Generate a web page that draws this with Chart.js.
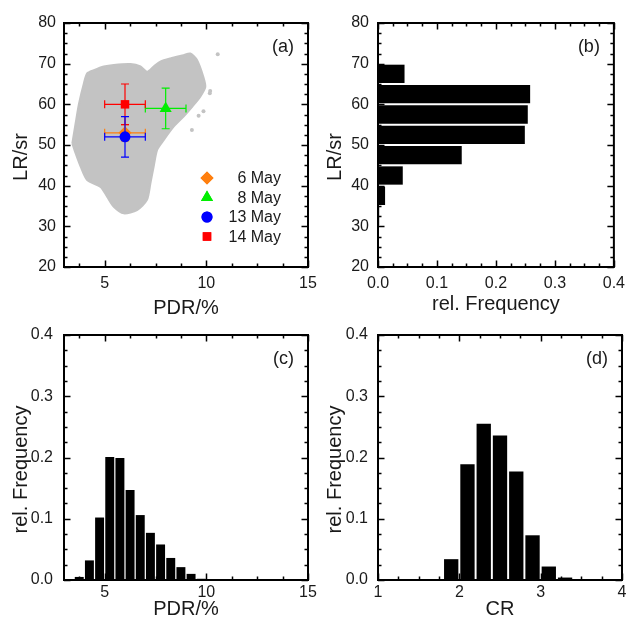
<!DOCTYPE html>
<html lang="en">

<head>
  <meta charset="UTF-8">
  <title>LR / PDR / CR</title>
  <script src="https://cdn.jsdelivr.net/npm/chart.js"></script>
  <style>
    body { margin: 0; background: #fff; }
    .painel { position: absolute; left: 0; top: 0; }
  </style>
</head>

<body>
  <canvas id="chartA" class="painel" width="632" height="624"></canvas>
  <canvas id="chartB" class="painel" width="632" height="624"></canvas>
  <canvas id="chartC" class="painel" width="632" height="624"></canvas>
  <canvas id="chartD" class="painel" width="632" height="624"></canvas>
</body>

<script>
  // ---- data ----
  // outline of the grey point cloud (PDR/%, LR/sr), walked round clockwise
  const cloudPdr = [3.41, 3.57, 3.74, 3.98, 4.14, 4.47, 4.96, 5.45, 6.27, 6.76, 7.08, 7.41, 7.74, 8.23, 8.88, 9.21, 9.54, 9.85, 9.95, 9.70, 9.30, 8.88, 8.39, 7.90, 7.58, 7.41, 7.25, 7.08, 6.59, 5.94, 5.45, 5.12, 4.80, 4.14, 3.82, 3.57, 3.41];
  const cloudLr = [50.4, 55.3, 60.2, 65.2, 67.6, 68.4, 69.3, 69.7, 69.9, 69.3, 68.0, 69.3, 70.5, 71.3, 72.1, 72.5, 70.9, 66.8, 64.3, 61.9, 59.4, 57.0, 54.5, 51.2, 48.8, 44.7, 40.6, 36.5, 34.0, 33.2, 34.8, 37.3, 39.7, 41.4, 44.7, 48.0, 50.4];
  // single points lying outside the cloud
  const strayPdr = [10.56, 10.17, 10.19, 9.86, 9.62, 9.29];
  const strayLr = [72.3, 62.7, 63.3, 58.3, 57.2, 53.7];

  // campaign means with error bars
  const dates = ['6 May', '8 May', '13 May', '14 May'];
  const pdrMean = [6, 8, 6, 6];
  const pdrErr = [1, 1, 1, 1];
  const lrMean = [53, 59, 52, 60];
  const lrErr = [2, 5, 5, 5];

  // histograms
  const lrBins = [32.5, 37.5, 42.5, 47.5, 52.5, 57.5, 62.5, 67.5];
  const lrFreq = [0.002, 0.012, 0.042, 0.142, 0.249, 0.254, 0.258, 0.045];
  const pdrBins = [3.75, 4.25, 4.75, 5.25, 5.75, 6.25, 6.75, 7.25, 7.75, 8.25, 8.75, 9.25, 9.75];
  const pdrFreq = [0.005, 0.032, 0.102, 0.201, 0.199, 0.147, 0.106, 0.077, 0.058, 0.036, 0.021, 0.010, 0.002];
  const crBins = [1.9, 2.1, 2.3, 2.5, 2.7, 2.9, 3.1, 3.3];
  const crFreq = [0.034, 0.189, 0.255, 0.236, 0.177, 0.073, 0.022, 0.004];

  // tick labels
  const pdrTicks = [5, 10, 15];
  const lrTicks = [20, 30, 40, 50, 60, 70, 80];
  const freqTicks = [0.0, 0.1, 0.2, 0.3, 0.4];
  const crTicks = [1, 2, 3, 4];

  const FONTE = '"Liberation Sans", Arial, sans-serif';
  const TEXTO = '#1a1a1a';

  // ---- plugin: box, inward ticks, titles and panel letter ----
  const moldura = {
    id: 'moldura',
    afterDraw(chart, args, opts) {
      const area = chart.chartArea;
      const ctx = chart.ctx;
      ctx.save();
      ctx.strokeStyle = '#000';
      ctx.lineWidth = 1.5;

      function marcas(scale, step, horizontal) {
        const majors = scale.ticks.map(t => t.value);
        let vals = [];
        for (let v = majors[0]; v <= scale.max + 1e-9; v += step) vals.push(v);
        for (let v = majors[0] - step; v >= scale.min - 1e-9; v -= step) vals.push(v);
        vals.forEach(v => {
          const major = majors.some(m => Math.abs(m - v) < 1e-6);
          const len = major ? 6.5 : 3.5;
          const p = Math.round(scale.getPixelForValue(v)) + 0.5;
          ctx.beginPath();
          if (horizontal) {
            ctx.moveTo(p, area.bottom); ctx.lineTo(p, area.bottom - len);
            ctx.moveTo(p, area.top); ctx.lineTo(p, area.top + len);
          } else {
            ctx.moveTo(area.left, p); ctx.lineTo(area.left + len, p);
            ctx.moveTo(area.right, p); ctx.lineTo(area.right - len, p);
          }
          ctx.stroke();
        });
      }
      marcas(chart.scales.x, opts.minorX, true);
      marcas(chart.scales.y, opts.minorY, false);

      ctx.lineWidth = 2;
      ctx.strokeRect(area.left, area.top, area.right - area.left, area.bottom - area.top);

      ctx.fillStyle = TEXTO;
      ctx.font = '18px ' + FONTE;
      ctx.textAlign = 'right';
      ctx.textBaseline = 'middle';
      ctx.fillText(opts.letra, area.right - 14, area.top + 24);

      ctx.font = '20px ' + FONTE;
      ctx.textAlign = 'center';
      ctx.fillText(opts.tituloX, (area.left + area.right) / 2, opts.tituloXY);

      ctx.translate(area.left - 43, (area.top + area.bottom) / 2 + 12);
      ctx.rotate(-Math.PI / 2);
      ctx.fillText(opts.tituloY, 0, 0);
      ctx.restore();
    }
  };

  // ---- plugin: error bars, drawn just under each marker ----
  const barrasErro = {
    id: 'barrasErro',
    beforeDatasetDraw(chart, args) {
      const ds = chart.data.datasets[args.index];
      if (ds.erroX === undefined) return;
      const sx = chart.scales.x, sy = chart.scales.y;
      const ctx = chart.ctx;
      const x = sx.getPixelForValue(ds.data[0].x);
      const y = sy.getPixelForValue(ds.data[0].y);
      const x1 = sx.getPixelForValue(ds.data[0].x - ds.erroX);
      const x2 = sx.getPixelForValue(ds.data[0].x + ds.erroX);
      const y1 = sy.getPixelForValue(ds.data[0].y - ds.erroY);
      const y2 = sy.getPixelForValue(ds.data[0].y + ds.erroY);
      const cap = 4;
      ctx.save();
      ctx.strokeStyle = ds.backgroundColor;
      ctx.lineWidth = 1.2;
      ctx.beginPath();
      ctx.moveTo(x1, y); ctx.lineTo(x2, y);
      ctx.moveTo(x1, y - cap); ctx.lineTo(x1, y + cap);
      ctx.moveTo(x2, y - cap); ctx.lineTo(x2, y + cap);
      ctx.moveTo(x, y1); ctx.lineTo(x, y2);
      ctx.moveTo(x - cap, y1); ctx.lineTo(x + cap, y1);
      ctx.moveTo(x - cap, y2); ctx.lineTo(x + cap, y2);
      ctx.stroke();
      ctx.restore();
    }
  };

  // ---- plugin: legend inside panel (a) ----
  const legendaA = {
    id: 'legendaA',
    afterDraw(chart, args, opts) {
      if (!opts.itens) return;
      const area = chart.chartArea;
      const ctx = chart.ctx;
      ctx.save();
      ctx.font = '16px ' + FONTE;
      ctx.textAlign = 'right';
      ctx.textBaseline = 'middle';
      opts.itens.forEach((it, i) => {
        const y = area.bottom - 89 + i * 19.5;
        const x = area.right - 101;
        ctx.fillStyle = it.cor;
        Chart.helpers.drawPoint(ctx, {
          pointStyle: it.estilo, radius: it.raio, rotation: 0, borderWidth: 0
        }, x, y);
        ctx.fill();
        ctx.fillStyle = TEXTO;
        ctx.fillText(it.nome, area.right - 27, y + 1);
      });
      ctx.restore();
    }
  };

  Chart.register(moldura, barrasErro, legendaA);

  function eixo(min, max, ticks, pad, fmt, tamanho, horizontal) {
    return {
      type: 'linear',
      min: min,
      max: max,
      offset: false,
      grid: { display: false, drawTicks: false },
      border: { display: false },
      afterBuildTicks: s => { s.ticks = ticks.map(v => ({ value: v })); },
      afterFit: s => { if (horizontal) s.height = tamanho; else s.width = tamanho; },
      ticks: {
        autoSkip: false,
        maxRotation: 0,
        padding: pad,
        color: TEXTO,
        font: { family: FONTE, size: 16 },
        callback: fmt
      }
    };
  }

  const inteiro = v => String(v);
  const decimal = v => v.toFixed(1);

  function opcoesBase(padding, escalas, moldOpts) {
    return {
      responsive: false,
      animation: false,
      events: [],
      layout: { padding: padding },
      scales: escalas,
      plugins: {
        legend: { display: false },
        tooltip: { enabled: false },
        moldura: moldOpts
      }
    };
  }

  // ---- (a) scatter ----
  const cores = ['#ff7f0e', '#00ee00', '#0000ff', '#ff0000'];
  const estilos = ['rectRot', 'triangle', 'circle', 'rect'];
  const raios = [6.5, 7, 5.5, 6];

  let marcadores = dates.map((d, i) => ({
    type: 'scatter',
    label: d,
    data: [{ x: pdrMean[i], y: lrMean[i] }],
    erroX: pdrErr[i],
    erroY: lrErr[i],
    backgroundColor: cores[i],
    borderWidth: 0,
    pointStyle: estilos[i],
    pointRadius: raios[i]
  }));
  // first dataset is painted on top: 13 May, 14 May, 8 May, 6 May
  let ordemTopo = [2, 3, 1, 0].map(i => marcadores[i]);

  const nuvem = {
    type: 'line',
    label: 'cloud',
    data: cloudPdr.map((v, i) => ({ x: v, y: cloudLr[i] })),
    borderColor: '#c3c3c3',
    backgroundColor: '#c3c3c3',
    borderWidth: 2,
    pointRadius: 0,
    tension: 0.25,
    fill: 'shape'
  };
  const soltos = {
    type: 'scatter',
    label: 'stray',
    data: strayPdr.map((v, i) => ({ x: v, y: strayLr[i] })),
    backgroundColor: '#c3c3c3',
    borderWidth: 0,
    pointRadius: 2
  };

  let opA = opcoesBase({ left: 24, top: 23, right: 324, bottom: 317 }, {
    x: eixo(3, 15, pdrTicks, 7, inteiro, 40, true),
    y: eixo(20, 80, lrTicks, 8, inteiro, 40, false)
  }, { minorX: 1.25, minorY: 2.5, letra: '(a)', tituloX: 'PDR/%', tituloXY: 308, tituloY: 'LR/sr' });
  opA.plugins.legendaA = {
    itens: dates.map((d, i) => ({ nome: d, cor: cores[i], estilo: estilos[i], raio: raios[i] }))
  };

  new Chart(document.getElementById('chartA'), {
    type: 'scatter',
    data: { datasets: ordemTopo.concat([soltos, nuvem]) },
    options: opA
  });

  // ---- (b) LR histogram, horizontal ----
  let opB = opcoesBase({ left: 338, top: 23, right: 10, bottom: 317 }, {
    x: eixo(0, 0.4, freqTicks, 7, decimal, 40, true),
    y: eixo(20, 80, lrTicks, 9, inteiro, 40, false)
  }, { minorX: 0.025, minorY: 2.5, letra: '(b)', tituloX: 'rel. Frequency', tituloXY: 304, tituloY: 'LR/sr' });
  opB.indexAxis = 'y';

  new Chart(document.getElementById('chartB'), {
    type: 'bar',
    data: {
      datasets: [{
        data: lrBins.map((v, i) => ({ x: lrFreq[i], y: v })),
        backgroundColor: '#000',
        categoryPercentage: 1,
        barPercentage: 0.9
      }]
    },
    options: opB
  });

  // ---- (c) PDR histogram ----
  new Chart(document.getElementById('chartC'), {
    type: 'bar',
    data: {
      datasets: [{
        data: pdrBins.map((v, i) => ({ x: v, y: pdrFreq[i] })),
        backgroundColor: '#000',
        categoryPercentage: 1,
        barPercentage: 0.88
      }]
    },
    options: opcoesBase({ left: 24, top: 335, right: 324, bottom: 4 }, {
      x: eixo(3, 15, pdrTicks, 3, inteiro, 40, true),
      y: eixo(0, 0.4, freqTicks, 11, decimal, 40, false)
    }, { minorX: 1.25, minorY: 0.025, letra: '(c)', tituloX: 'PDR/%', tituloXY: 609, tituloY: 'rel. Frequency' })
  });

  // ---- (d) CR histogram ----
  new Chart(document.getElementById('chartD'), {
    type: 'bar',
    data: {
      datasets: [{
        data: crBins.map((v, i) => ({ x: v, y: crFreq[i] })),
        backgroundColor: '#000',
        categoryPercentage: 1,
        barPercentage: 0.88
      }]
    },
    options: opcoesBase({ left: 338, top: 335, right: 10, bottom: 4 }, {
      x: eixo(1, 4, crTicks, 3, inteiro, 40, true),
      y: eixo(0, 0.4, freqTicks, 10, decimal, 40, false)
    }, { minorX: 0.25, minorY: 0.025, letra: '(d)', tituloX: 'CR', tituloXY: 609, tituloY: 'rel. Frequency' })
  });
</script>

</html>
